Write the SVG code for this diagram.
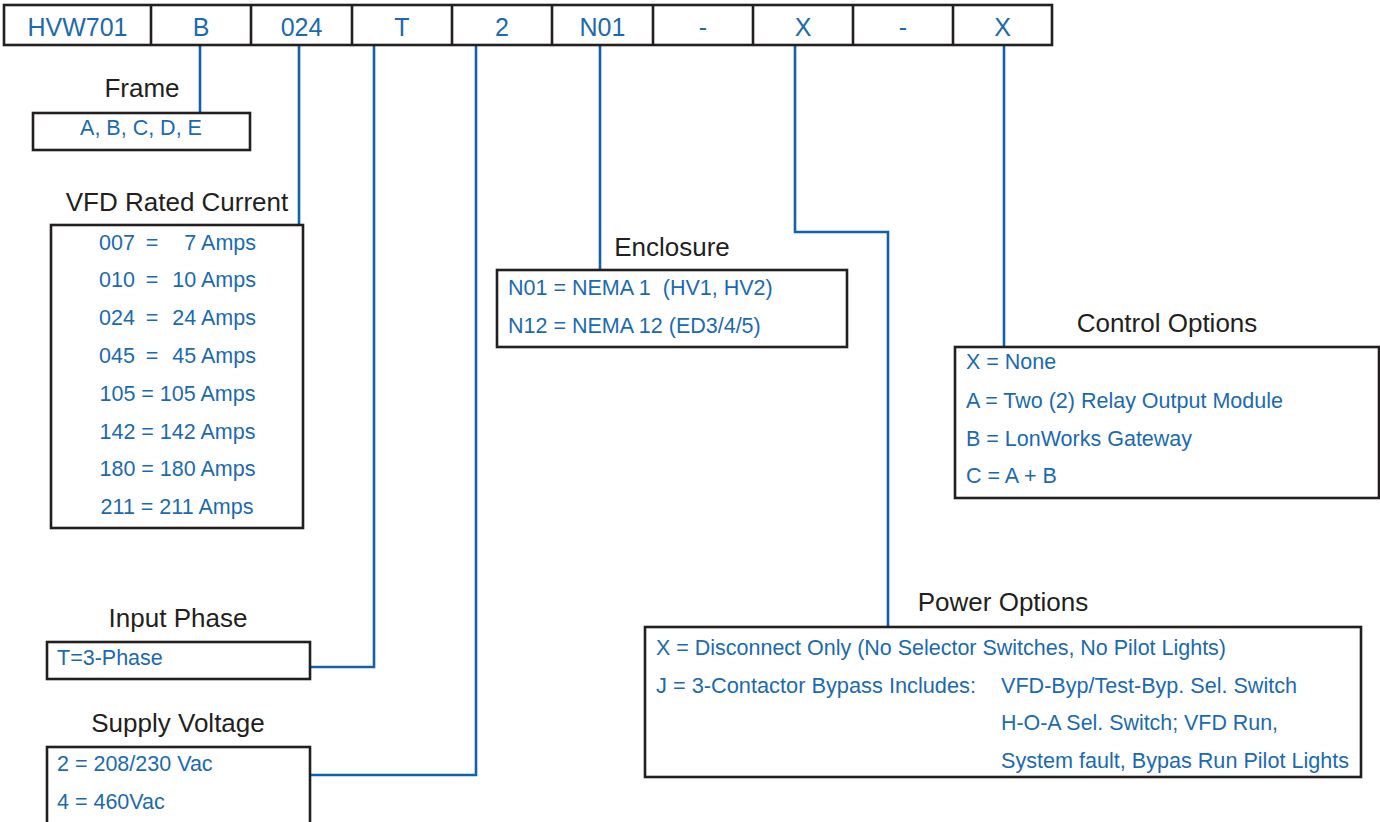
<svg xmlns="http://www.w3.org/2000/svg" width="1380" height="822" viewBox="0 0 1380 822">
<style>
.box{fill:#fff;stroke:#231f20;stroke-width:2.6}
.conn{fill:none;stroke:#1361a8;stroke-width:2.6}
.code{font-family:"Liberation Sans",Arial,sans-serif;font-size:25px;fill:#1b6ab0;text-anchor:middle}
.title{font-family:"Liberation Sans",Arial,sans-serif;font-size:26px;fill:#231f20;text-anchor:middle}
.val{font-family:"Liberation Sans",Arial,sans-serif;font-size:21.5px;fill:#1b6ab0}
.mid{text-anchor:middle}
.end{text-anchor:end}
</style>
<rect width="1380" height="822" fill="#fff"/>
<g id="connectors">
<path class="conn" d="M200,45V113"/>
<path class="conn" d="M299,45V225"/>
<path class="conn" d="M374,45V667H310"/>
<path class="conn" d="M476,45V775H310"/>
<path class="conn" d="M600,45V270"/>
<path class="conn" d="M795,45V232H888V627"/>
<path class="conn" d="M1004,45V347"/>
</g>
<g id="model-code">
<rect class="box" x="4" y="5" width="1048" height="40"/>
<path d="M151,5V45M251,5V45M352,5V45M452,5V45M552,5V45M653,5V45M753,5V45M853,5V45M953,5V45" stroke="#231f20" stroke-width="2.6"/>
<text class="code" x="77.5" y="36">HVW701</text>
<text class="code" x="201" y="36">B</text>
<text class="code" x="301.5" y="36">024</text>
<text class="code" x="402" y="36">T</text>
<text class="code" x="502" y="36">2</text>
<text class="code" x="602.5" y="36">N01</text>
<text class="code" x="703" y="36">-</text>
<text class="code" x="803" y="36">X</text>
<text class="code" x="903" y="36">-</text>
<text class="code" x="1002.5" y="36">X</text>
</g>
<g id="frame">
<text class="title" x="142" y="97">Frame</text>
<rect class="box" x="33" y="113" width="217" height="37"/>
<text class="val mid" x="141" y="135">A, B, C, D, E</text>
</g>
<g id="vfd-rated-current">
<text class="title" x="177" y="211">VFD Rated Current</text>
<rect class="box" x="51" y="225" width="252" height="303"/>
<text class="val" x="99" y="249.5">007</text><text class="val mid" x="152" y="249.5">=</text><text class="val end" x="256" y="249.5">7 Amps</text>
<text class="val" x="99" y="286.5">010</text><text class="val mid" x="152" y="286.5">=</text><text class="val end" x="256" y="286.5">10 Amps</text>
<text class="val" x="99" y="324.5">024</text><text class="val mid" x="152" y="324.5">=</text><text class="val end" x="256" y="324.5">24 Amps</text>
<text class="val" x="99" y="362.5">045</text><text class="val mid" x="152" y="362.5">=</text><text class="val end" x="256" y="362.5">45 Amps</text>
<text class="val mid" x="177.5" y="400.5">105 = 105 Amps</text>
<text class="val mid" x="177.5" y="438.5">142 = 142 Amps</text>
<text class="val mid" x="177.5" y="475.5">180 = 180 Amps</text>
<text class="val mid" x="177" y="513.5">211 = 211 Amps</text>
</g>
<g id="input-phase">
<text class="title" x="178" y="627">Input Phase</text>
<rect class="box" x="47" y="642" width="263" height="37"/>
<text class="val" x="57" y="664.5">T=3-Phase</text>
</g>
<g id="supply-voltage">
<text class="title" x="178" y="732">Supply Voltage</text>
<rect class="box" x="47" y="747" width="263" height="90"/>
<text class="val" x="57" y="770.5">2 = 208/230 Vac</text>
<text class="val" x="57" y="808.5">4 = 460Vac</text>
</g>
<g id="enclosure">
<text class="title" x="672" y="256">Enclosure</text>
<rect class="box" x="497" y="270" width="350" height="77"/>
<text class="val" x="508" y="294.5" xml:space="preserve">N01 = NEMA 1  (HV1, HV2)</text>
<text class="val" x="508" y="332.5">N12 = NEMA 12 (ED3/4/5)</text>
</g>
<g id="control-options">
<text class="title" x="1167" y="332">Control Options</text>
<rect class="box" x="955" y="347" width="424" height="151"/>
<text class="val" x="966" y="368.5">X = None</text>
<text class="val" x="966" y="407.5">A = Two (2) Relay Output Module</text>
<text class="val" x="966" y="445.5">B = LonWorks Gateway</text>
<text class="val" x="966" y="482.5">C = A + B</text>
</g>
<g id="power-options">
<text class="title" x="1003" y="611">Power Options</text>
<rect class="box" x="645" y="627" width="716" height="150"/>
<text class="val" x="656" y="654.5" textLength="570" lengthAdjust="spacingAndGlyphs">X = Disconnect Only (No Selector Switches, No Pilot Lights)</text>
<text class="val" x="656" y="692.5" textLength="320" lengthAdjust="spacingAndGlyphs">J = 3-Contactor Bypass Includes:</text>
<text class="val" x="1001" y="692.5" textLength="296" lengthAdjust="spacingAndGlyphs">VFD-Byp/Test-Byp. Sel. Switch</text>
<text class="val" x="1001" y="729.5" textLength="277" lengthAdjust="spacingAndGlyphs">H-O-A Sel. Switch; VFD Run,</text>
<text class="val" x="1001" y="767.5" textLength="348" lengthAdjust="spacingAndGlyphs">System fault, Bypas Run Pilot Lights</text>
</g>
</svg>
